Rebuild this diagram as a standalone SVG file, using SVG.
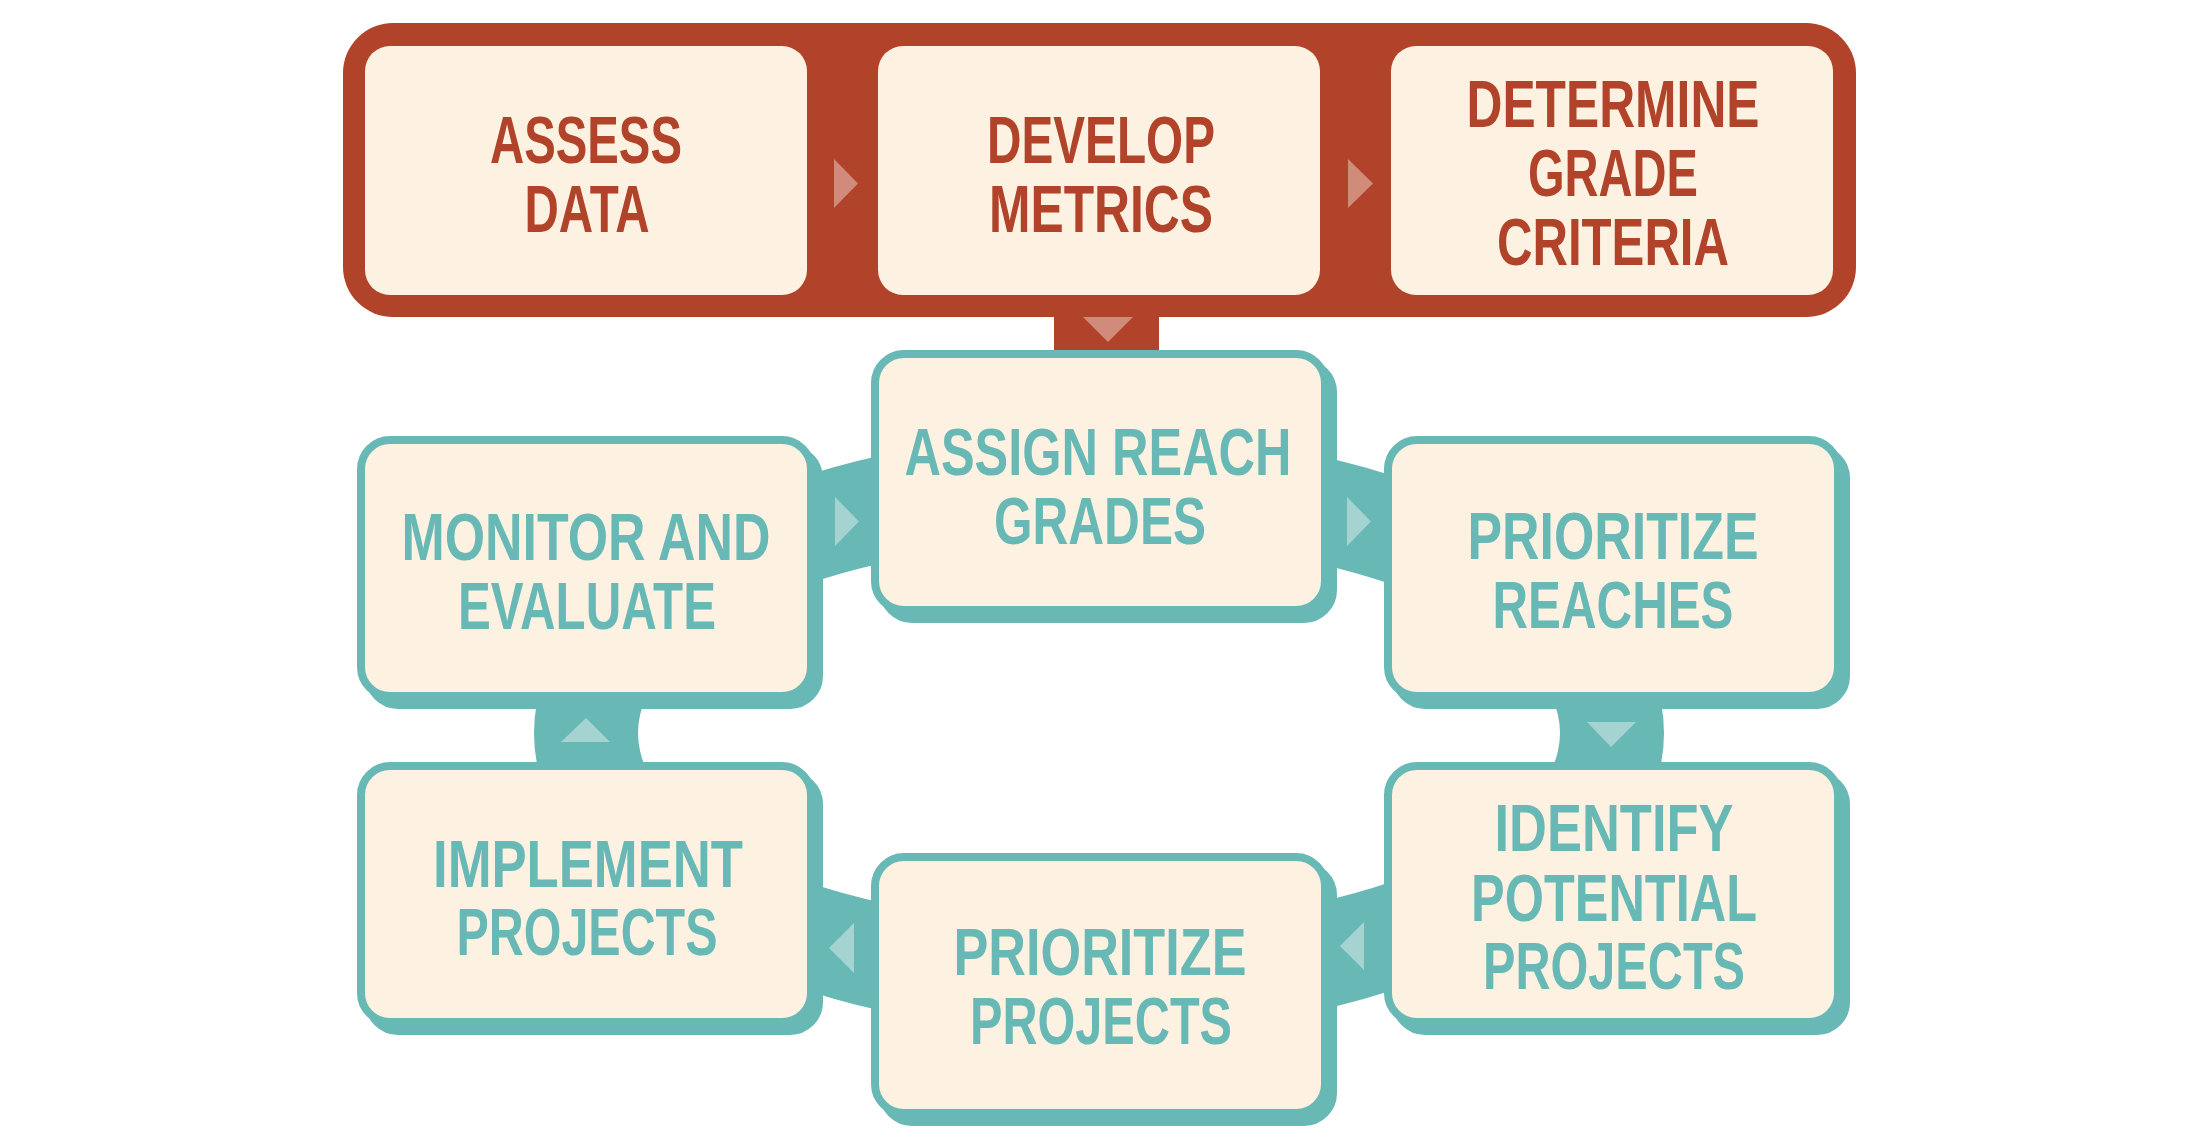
<svg xmlns="http://www.w3.org/2000/svg" width="2200" height="1131" viewBox="0 0 2200 1131">
<style>
.cr{fill:#fdf2e1}
.tb{fill:#fdf2e1;stroke:#68b8b6;stroke-width:8}
.sh{fill:#68b8b6;stroke:#68b8b6;stroke-width:8}
.t{font-family:"Liberation Sans",Arial,sans-serif;font-weight:700;font-size:67px;text-anchor:middle}
.tr{fill:#b1432a}
.tt{fill:#68b8b6}
.ar{fill:#d08b7b}
.at{fill:#a5d3d1}
</style>
<rect width="2200" height="1131" fill="#ffffff"/>
<g id="phase1-frame">
<rect x="343" y="23" width="1513" height="294" rx="50" fill="#b1432a"/>
</g>
<g id="assess-data">
<rect class="cr" x="365" y="46" width="442" height="249" rx="25"/>
<text class="t tr" x="586" y="163" textLength="192" lengthAdjust="spacingAndGlyphs">ASSESS</text>
<text class="t tr" x="587" y="232" textLength="125" lengthAdjust="spacingAndGlyphs">DATA</text>
</g>
<g id="develop-metrics">
<rect class="cr" x="878" y="46" width="442" height="249" rx="25"/>
<text class="t tr" x="1101" y="163" textLength="228" lengthAdjust="spacingAndGlyphs">DEVELOP</text>
<text class="t tr" x="1101" y="232" textLength="224" lengthAdjust="spacingAndGlyphs">METRICS</text>
</g>
<g id="determine-grade-criteria">
<rect class="cr" x="1391" y="46" width="442" height="249" rx="25"/>
<text class="t tr" x="1613" y="127" textLength="293" lengthAdjust="spacingAndGlyphs">DETERMINE</text>
<text class="t tr" x="1613" y="196" textLength="170" lengthAdjust="spacingAndGlyphs">GRADE</text>
<text class="t tr" x="1613" y="265" textLength="232" lengthAdjust="spacingAndGlyphs">CRITERIA</text>
</g>
<g id="connectors">
<path fill="#68b8b6" fill-rule="evenodd" d="M534,733 A565,301 0 1,0 1664,733 A565,301 0 1,0 534,733 Z M638,733 A461,192.5 0 1,0 1560,733 A461,192.5 0 1,0 638,733 Z"/>
<rect x="1054" y="300" width="105" height="70" fill="#b1432a"/>
<polygon class="ar" points="834,159 858,183.5 834,208"/>
<polygon class="ar" points="1348,159 1373,183.5 1348,208"/>
<polygon class="ar" points="1083,317 1133,317 1108,342"/>
<polygon class="at" points="835,497 859,521.5 835,546"/>
<polygon class="at" points="1347,497 1371,521.5 1347,546"/>
<polygon class="at" points="1587,722 1636,722 1611,747"/>
<polygon class="at" points="1364,922 1340,946 1364,970"/>
<polygon class="at" points="854,923 829,948 854,973"/>
<polygon class="at" points="561,742 610,742 586,718"/>
</g>
<g id="assign-reach-grades">
<rect class="sh" x="883" y="363" width="450" height="256" rx="29"/>
<rect class="tb" x="875" y="354" width="450" height="256" rx="29"/>
<text class="t tt" x="1098" y="475" textLength="387" lengthAdjust="spacingAndGlyphs">ASSIGN REACH</text>
<text class="t tt" x="1100" y="544" textLength="212" lengthAdjust="spacingAndGlyphs">GRADES</text>
</g>
<g id="monitor-evaluate">
<rect class="sh" x="369" y="449" width="450" height="256" rx="29"/>
<rect class="tb" x="361" y="440" width="450" height="256" rx="29"/>
<text class="t tt" x="586" y="560" textLength="369" lengthAdjust="spacingAndGlyphs">MONITOR AND</text>
<text class="t tt" x="587" y="629" textLength="258" lengthAdjust="spacingAndGlyphs">EVALUATE</text>
</g>
<g id="prioritize-reaches">
<rect class="sh" x="1396" y="449" width="450" height="256" rx="29"/>
<rect class="tb" x="1388" y="440" width="450" height="256" rx="29"/>
<text class="t tt" x="1613" y="559" textLength="291" lengthAdjust="spacingAndGlyphs">PRIORITIZE</text>
<text class="t tt" x="1613" y="628" textLength="241" lengthAdjust="spacingAndGlyphs">REACHES</text>
</g>
<g id="implement-projects">
<rect class="sh" x="369" y="775" width="450" height="256" rx="29"/>
<rect class="tb" x="361" y="766" width="450" height="256" rx="29"/>
<text class="t tt" x="588" y="887" textLength="310" lengthAdjust="spacingAndGlyphs">IMPLEMENT</text>
<text class="t tt" x="587" y="955" textLength="261" lengthAdjust="spacingAndGlyphs">PROJECTS</text>
</g>
<g id="prioritize-projects">
<rect class="sh" x="883" y="866" width="450" height="256" rx="29"/>
<rect class="tb" x="875" y="857" width="450" height="256" rx="29"/>
<text class="t tt" x="1100" y="975" textLength="293" lengthAdjust="spacingAndGlyphs">PRIORITIZE</text>
<text class="t tt" x="1101" y="1044" textLength="262" lengthAdjust="spacingAndGlyphs">PROJECTS</text>
</g>
<g id="identify-potential-projects">
<rect class="sh" x="1396" y="775" width="450" height="256" rx="29"/>
<rect class="tb" x="1388" y="766" width="450" height="256" rx="29"/>
<text class="t tt" x="1614" y="851" textLength="239" lengthAdjust="spacingAndGlyphs">IDENTIFY</text>
<text class="t tt" x="1614" y="921" textLength="286" lengthAdjust="spacingAndGlyphs">POTENTIAL</text>
<text class="t tt" x="1614" y="989" textLength="262" lengthAdjust="spacingAndGlyphs">PROJECTS</text>
</g>
</svg>
